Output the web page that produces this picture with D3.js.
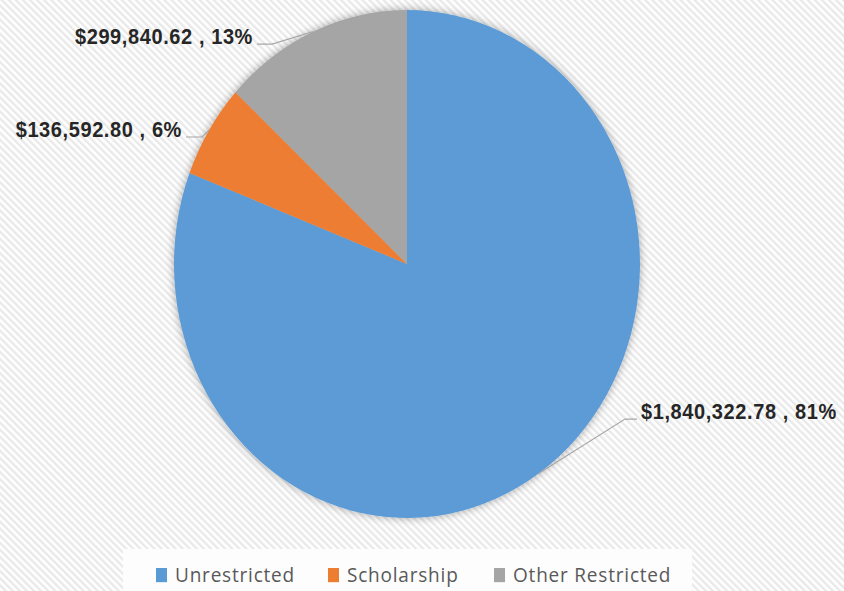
<!DOCTYPE html>
<html>
<head>
<meta charset="utf-8">
<script src="https://cdn.jsdelivr.net/npm/d3@7/dist/d3.min.js"></script>
<style>
html,body{margin:0;padding:0;background:#fff;}
svg{display:block;}
</style>
</head>
<body>
<svg id="chart" width="844" height="591"></svg>
<script>
// ---- data ----
const categories = ["Unrestricted", "Scholarship", "Other Restricted"];
const values = [1840322.78, 136592.80, 299840.62];
const colors = ["#5B9BD5", "#ED7D31", "#A5A5A5"];
// label layout (leader elbow, leader end, label baseline position) in unscaled coords
const labelLayout = [
  {elbow: [625, 384.5], end: [637, 384.5], text: [641, 384.5], anchor: "start"},
  {elbow: [202, 125.7], end: [186, 125.7], text: [182, 125.7], anchor: "end"},
  {elbow: [272, 40.4], end: [257, 40.4], text: [253, 40.4], anchor: "end"}
];

const W = 844, H = 591;
const sy = 1.09; // vertical stretch of the picture
const svg = d3.select("#chart");
const defs = svg.append("defs");

// striped background
const pat = defs.append("pattern").attr("id", "stripes")
  .attr("patternUnits", "userSpaceOnUse").attr("width", 5).attr("height", 5)
  .attr("patternTransform", "rotate(-45)");
pat.append("rect").attr("width", 5).attr("height", 5).attr("fill", "#ffffff");
pat.append("rect").attr("width", 2.4).attr("height", 5).attr("fill", "#e9e9e9");
svg.append("rect").attr("width", W).attr("height", H).attr("fill", "url(#stripes)");

const shadow = defs.append("filter").attr("id", "shadow")
  .attr("x", "-10%").attr("y", "-10%").attr("width", "120%").attr("height", "120%");
shadow.append("feGaussianBlur").attr("in", "SourceAlpha").attr("stdDeviation", 4).attr("result", "b");
shadow.append("feComponentTransfer").attr("in", "b").attr("result", "c")
  .append("feFuncA").attr("type", "linear").attr("slope", 0.35);
const merge = shadow.append("feMerge");
merge.append("feMergeNode").attr("in", "c");
merge.append("feMergeNode").attr("in", "SourceGraphic");

const g = svg.append("g").attr("transform", `scale(1,${sy})`);

const cx = 407, cy = 264 / sy, R = 233;
const pie = d3.pie().sort(null).value(d => d)(values);
const arc = d3.arc().innerRadius(0).outerRadius(R);
const total = d3.sum(values);

const pg = g.append("g").attr("transform", `translate(${cx},${cy})`).attr("filter", "url(#shadow)");
pg.selectAll("path").data(pie).join("path")
  .attr("d", arc).attr("fill", (d, i) => colors[i]);

// leader lines & labels
const fmt = d3.format("$,.2f");
pie.forEach((d, i) => {
  const mid = (d.startAngle + d.endAngle) / 2;
  const ax = cx + Math.sin(mid) * R, ay = cy - Math.cos(mid) * R;
  const L = labelLayout[i];
  g.append("polyline")
    .attr("points", [[ax, ay], L.elbow, L.end].map(p => p.join(",")).join(" "))
    .attr("fill", "none").attr("stroke", "#a6a6a6").attr("stroke-width", 1.1);
  g.append("text")
    .attr("x", L.text[0]).attr("y", L.text[1])
    .attr("text-anchor", L.anchor)
    .attr("font-family", "'Liberation Sans', Arial, sans-serif")
    .attr("font-weight", "bold").attr("font-size", 20)
    .attr("letter-spacing", 0.6)
    .attr("fill", "#262626")
    .text(`${fmt(values[i])} , ${Math.round(values[i] / total * 100)}%`);
});

// legend
const lg = g.append("g");
lg.append("rect").attr("x", 123).attr("y", 549 / sy).attr("width", 692 - 123).attr("height", 60)
  .attr("fill", "#fdfdfd");
const legX = [156, 328, 494];
categories.forEach((c, i) => {
  lg.append("rect").attr("x", legX[i]).attr("y", 568 / sy).attr("width", 11).attr("height", 13)
    .attr("fill", colors[i]);
  lg.append("text").attr("x", legX[i] + 19).attr("y", 582 / sy)
    .attr("font-family", "'Open Sans', sans-serif").attr("font-size", 19)
    .attr("letter-spacing", 0.8)
    .attr("fill", "#595959").text(c);
});
</script>
</body>
</html>
